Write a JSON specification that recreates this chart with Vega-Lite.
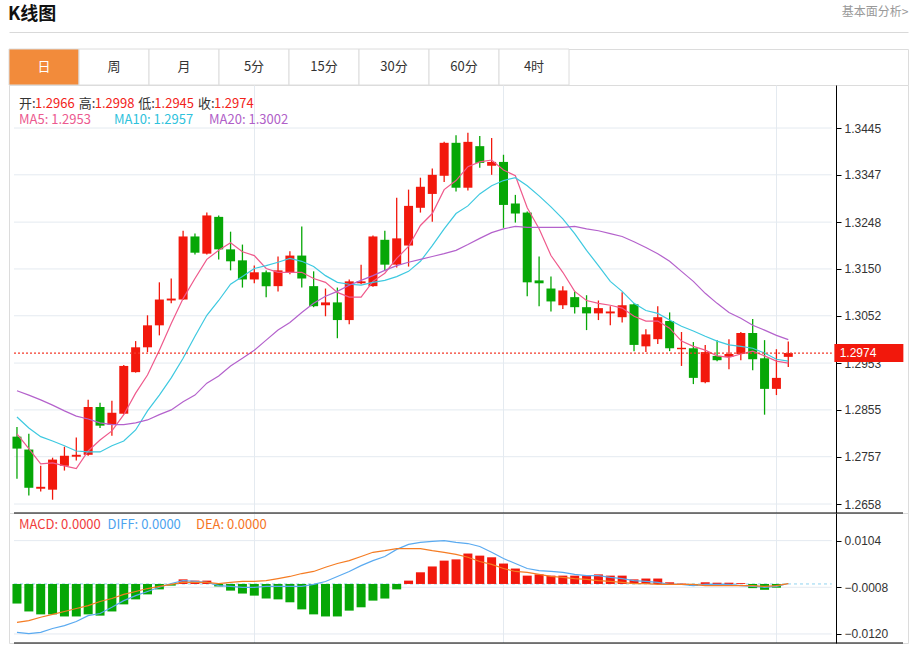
{
  "$schema": "https://vega.github.io/schema/vega-lite/v6.json",
  "background": "white",
  "padding": {"left": 8, "right": 5, "top": 4, "bottom": 0},
  "title": {"text": "K线图", "anchor": "start", "font": "Noto Sans CJK SC", "fontSize": 18, "fontWeight": "bold", "color": "#111111", "offset": -19},
  "spacing": 0,
  "bounds": "flush",
  "resolve": {"scale": {"x": "independent", "y": "independent", "color": "independent"}},
  "datasets": {
    "tabs": [{"tab": "日"}, {"tab": "周"}, {"tab": "月"}, {"tab": "5分"}, {"tab": "15分"}, {"tab": "30分"}, {"tab": "60分"}, {"tab": "4时"}],
    "pticks": [{"p": 1.3445}, {"p": 1.3347}, {"p": 1.3248}, {"p": 1.315}, {"p": 1.3052}, {"p": 1.2953}, {"p": 1.2855}, {"p": 1.2757}, {"p": 1.2658}],
    "mticks": [{"m": 0.0104}, {"m": -0.0008}, {"m": -0.012}],
    "last": [{"price": 1.2974}],
    "info1": [{"k": "开:", "v": 1.2966}, {"k": "高:", "v": 1.2998}, {"k": "低:", "v": 1.2945}, {"k": "收:", "v": 1.2974}],
    "info2": [{"name": "MA5", "t": "MA5: 1.2953"}, {"name": "MA10", "t": "MA10: 1.2957"}, {"name": "MA20", "t": "MA20: 1.3002"}],
    "info3": [{"name": "MACD", "t": "MACD: 0.0000"}, {"name": "DIFF", "t": "DIFF: 0.0000"}, {"name": "DEA", "t": "DEA: 0.0000"}],
    "k": [
      {"i":0,"o":1.2799,"h":1.2819,"l":1.2711,"c":1.2774,"ma5":1.2805,"ma10":1.2840,"ma20":1.2895,"macd":-0.0047,"diff":-0.0116,"dea":-0.0092},
      {"i":1,"o":1.2772,"h":1.2805,"l":1.2676,"c":1.2692,"ma5":1.2774,"ma10":1.2817,"ma20":1.2886,"macd":-0.0066,"diff":-0.0119,"dea":-0.0088},
      {"i":2,"o":1.2690,"h":1.2738,"l":1.2684,"c":1.2694,"ma5":1.2742,"ma10":1.2799,"ma20":1.2876,"macd":-0.0073,"diff":-0.0116,"dea":-0.0080},
      {"i":3,"o":1.2688,"h":1.2755,"l":1.2667,"c":1.2751,"ma5":1.2744,"ma10":1.2790,"ma20":1.2865,"macd":-0.0073,"diff":-0.0107,"dea":-0.0073},
      {"i":4,"o":1.2738,"h":1.2778,"l":1.2728,"c":1.2759,"ma5":1.2738,"ma10":1.2780,"ma20":1.2853,"macd":-0.0078,"diff":-0.0100,"dea":-0.0066},
      {"i":5,"o":1.2757,"h":1.2797,"l":1.2749,"c":1.2761,"ma5":1.2732,"ma10":1.2769,"ma20":1.2842,"macd":-0.0078,"diff":-0.0090,"dea":-0.0059},
      {"i":6,"o":1.2761,"h":1.2876,"l":1.2759,"c":1.2861,"ma5":1.2769,"ma10":1.2767,"ma20":1.2836,"macd":-0.0073,"diff":-0.0076,"dea":-0.0052},
      {"i":7,"o":1.2861,"h":1.2870,"l":1.2817,"c":1.2822,"ma5":1.2792,"ma10":1.2767,"ma20":1.2828,"macd":-0.0076,"diff":-0.0071,"dea":-0.0042},
      {"i":8,"o":1.2824,"h":1.2874,"l":1.2801,"c":1.2849,"ma5":1.2811,"ma10":1.2780,"ma20":1.2824,"macd":-0.0066,"diff":-0.0056,"dea":-0.0035},
      {"i":9,"o":1.2847,"h":1.2949,"l":1.2846,"c":1.2947,"ma5":1.2845,"ma10":1.2790,"ma20":1.2824,"macd":-0.0049,"diff":-0.0040,"dea":-0.0025},
      {"i":10,"o":1.2934,"h":1.2999,"l":1.2933,"c":1.2986,"ma5":1.2890,"ma10":1.2813,"ma20":1.2828,"macd":-0.0037,"diff":-0.0028,"dea":-0.0018},
      {"i":11,"o":1.2986,"h":1.3053,"l":1.2976,"c":1.3032,"ma5":1.2928,"ma10":1.2853,"ma20":1.2834,"macd":-0.0025,"diff":-0.0018,"dea":-0.0011},
      {"i":12,"o":1.3032,"h":1.3122,"l":1.3011,"c":1.3086,"ma5":1.2980,"ma10":1.2886,"ma20":1.2845,"macd":-0.0013,"diff":-0.0008,"dea":-0.0006},
      {"i":13,"o":1.3084,"h":1.3130,"l":1.3078,"c":1.3088,"ma5":1.3036,"ma10":1.2922,"ma20":1.2855,"macd":-0.0004,"diff":0.0001,"dea":-0.0001},
      {"i":14,"o":1.3086,"h":1.3230,"l":1.3085,"c":1.3218,"ma5":1.3088,"ma10":1.2963,"ma20":1.2872,"macd":0.0011,"diff":0.0008,"dea":0.0004},
      {"i":15,"o":1.3218,"h":1.3224,"l":1.3180,"c":1.3184,"ma5":1.3130,"ma10":1.3009,"ma20":1.2886,"macd":0.0008,"diff":0.0006,"dea":0.0004},
      {"i":16,"o":1.3182,"h":1.3268,"l":1.3180,"c":1.3262,"ma5":1.3170,"ma10":1.3053,"ma20":1.2911,"macd":0.0008,"diff":0.0004,"dea":0.0004},
      {"i":17,"o":1.3259,"h":1.3262,"l":1.3170,"c":1.3191,"ma5":1.3189,"ma10":1.3084,"ma20":1.2926,"macd":-0.0006,"diff":-0.0004,"dea":0.0001},
      {"i":18,"o":1.3191,"h":1.3228,"l":1.3147,"c":1.3166,"ma5":1.3205,"ma10":1.3118,"ma20":1.2947,"macd":-0.0016,"diff":-0.0006,"dea":0.0004},
      {"i":19,"o":1.3168,"h":1.3201,"l":1.3111,"c":1.3128,"ma5":1.3186,"ma10":1.3134,"ma20":1.2963,"macd":-0.0023,"diff":-0.0008,"dea":0.0006},
      {"i":20,"o":1.3128,"h":1.3157,"l":1.3120,"c":1.3143,"ma5":1.3178,"ma10":1.3151,"ma20":1.2980,"macd":-0.0028,"diff":-0.0008,"dea":0.0006},
      {"i":21,"o":1.3143,"h":1.3147,"l":1.3091,"c":1.3114,"ma5":1.3151,"ma10":1.3157,"ma20":1.3001,"macd":-0.0035,"diff":-0.0006,"dea":0.0008},
      {"i":22,"o":1.3114,"h":1.3176,"l":1.3103,"c":1.3147,"ma5":1.3143,"ma10":1.3164,"ma20":1.3022,"macd":-0.0037,"diff":-0.0006,"dea":0.0013},
      {"i":23,"o":1.3143,"h":1.3187,"l":1.3139,"c":1.3178,"ma5":1.3143,"ma10":1.3172,"ma20":1.3038,"macd":-0.0044,"diff":-0.0006,"dea":0.0018},
      {"i":24,"o":1.3178,"h":1.3239,"l":1.3111,"c":1.3130,"ma5":1.3143,"ma10":1.3166,"ma20":1.3059,"macd":-0.0061,"diff":-0.0006,"dea":0.0025},
      {"i":25,"o":1.3114,"h":1.3145,"l":1.3070,"c":1.3072,"ma5":1.3130,"ma10":1.3155,"ma20":1.3078,"macd":-0.0073,"diff":-0.0001,"dea":0.0030},
      {"i":26,"o":1.3074,"h":1.3109,"l":1.3051,"c":1.3080,"ma5":1.3122,"ma10":1.3136,"ma20":1.3093,"macd":-0.0078,"diff":0.0006,"dea":0.0040},
      {"i":27,"o":1.3080,"h":1.3111,"l":1.3005,"c":1.3043,"ma5":1.3101,"ma10":1.3122,"ma20":1.3103,"macd":-0.0078,"diff":0.0018,"dea":0.0049},
      {"i":28,"o":1.3043,"h":1.3128,"l":1.3034,"c":1.3124,"ma5":1.3091,"ma10":1.3118,"ma20":1.3116,"macd":-0.0064,"diff":0.0030,"dea":0.0056},
      {"i":29,"o":1.3120,"h":1.3159,"l":1.3118,"c":1.3124,"ma5":1.3091,"ma10":1.3116,"ma20":1.3126,"macd":-0.0056,"diff":0.0044,"dea":0.0066},
      {"i":30,"o":1.3114,"h":1.3220,"l":1.3113,"c":1.3218,"ma5":1.3124,"ma10":1.3122,"ma20":1.3136,"macd":-0.0040,"diff":0.0056,"dea":0.0076},
      {"i":31,"o":1.3211,"h":1.3230,"l":1.3147,"c":1.3159,"ma5":1.3141,"ma10":1.3126,"ma20":1.3147,"macd":-0.0035,"diff":0.0066,"dea":0.0080},
      {"i":32,"o":1.3159,"h":1.3299,"l":1.3153,"c":1.3214,"ma5":1.3172,"ma10":1.3134,"ma20":1.3157,"macd":-0.0013,"diff":0.0083,"dea":0.0085},
      {"i":33,"o":1.3199,"h":1.3316,"l":1.3155,"c":1.3282,"ma5":1.3197,"ma10":1.3145,"ma20":1.3164,"macd":0.0008,"diff":0.0095,"dea":0.0085},
      {"i":34,"o":1.3278,"h":1.3341,"l":1.3268,"c":1.3322,"ma5":1.3241,"ma10":1.3166,"ma20":1.3170,"macd":0.0028,"diff":0.0100,"dea":0.0085},
      {"i":35,"o":1.3307,"h":1.3360,"l":1.3249,"c":1.3347,"ma5":1.3266,"ma10":1.3199,"ma20":1.3176,"macd":0.0042,"diff":0.0102,"dea":0.0080},
      {"i":36,"o":1.3345,"h":1.3416,"l":1.3332,"c":1.3414,"ma5":1.3316,"ma10":1.3234,"ma20":1.3182,"macd":0.0056,"diff":0.0104,"dea":0.0076},
      {"i":37,"o":1.3414,"h":1.3430,"l":1.3312,"c":1.3320,"ma5":1.3335,"ma10":1.3266,"ma20":1.3189,"macd":0.0059,"diff":0.0100,"dea":0.0071},
      {"i":38,"o":1.3320,"h":1.3435,"l":1.3314,"c":1.3416,"ma5":1.3364,"ma10":1.3282,"ma20":1.3201,"macd":0.0073,"diff":0.0097,"dea":0.0064},
      {"i":39,"o":1.3407,"h":1.3428,"l":1.3362,"c":1.3372,"ma5":1.3374,"ma10":1.3307,"ma20":1.3214,"macd":0.0068,"diff":0.0090,"dea":0.0054},
      {"i":40,"o":1.3366,"h":1.3424,"l":1.3347,"c":1.3374,"ma5":1.3378,"ma10":1.3324,"ma20":1.3226,"macd":0.0064,"diff":0.0076,"dea":0.0047},
      {"i":41,"o":1.3374,"h":1.3389,"l":1.3236,"c":1.3284,"ma5":1.3357,"ma10":1.3335,"ma20":1.3234,"macd":0.0049,"diff":0.0061,"dea":0.0037},
      {"i":42,"o":1.3287,"h":1.3305,"l":1.3247,"c":1.3266,"ma5":1.3345,"ma10":1.3341,"ma20":1.3239,"macd":0.0037,"diff":0.0049,"dea":0.0030},
      {"i":43,"o":1.3268,"h":1.3270,"l":1.3093,"c":1.3122,"ma5":1.3278,"ma10":1.3324,"ma20":1.3237,"macd":0.0020,"diff":0.0037,"dea":0.0028},
      {"i":44,"o":1.3126,"h":1.3176,"l":1.3072,"c":1.3120,"ma5":1.3234,"ma10":1.3303,"ma20":1.3237,"macd":0.0023,"diff":0.0032,"dea":0.0023},
      {"i":45,"o":1.3109,"h":1.3134,"l":1.3061,"c":1.3082,"ma5":1.3178,"ma10":1.3280,"ma20":1.3237,"macd":0.0020,"diff":0.0030,"dea":0.0018},
      {"i":46,"o":1.3074,"h":1.3114,"l":1.3066,"c":1.3105,"ma5":1.3143,"ma10":1.3255,"ma20":1.3237,"macd":0.0020,"diff":0.0028,"dea":0.0016},
      {"i":47,"o":1.3091,"h":1.3103,"l":1.3057,"c":1.3070,"ma5":1.3103,"ma10":1.3224,"ma20":1.3239,"macd":0.0020,"diff":0.0023,"dea":0.0013},
      {"i":48,"o":1.3070,"h":1.3095,"l":1.3022,"c":1.3057,"ma5":1.3084,"ma10":1.3189,"ma20":1.3234,"macd":0.0020,"diff":0.0020,"dea":0.0011},
      {"i":49,"o":1.3057,"h":1.3084,"l":1.3043,"c":1.3068,"ma5":1.3078,"ma10":1.3157,"ma20":1.3230,"macd":0.0023,"diff":0.0020,"dea":0.0008},
      {"i":50,"o":1.3057,"h":1.3072,"l":1.3032,"c":1.3061,"ma5":1.3074,"ma10":1.3124,"ma20":1.3224,"macd":0.0020,"diff":0.0016,"dea":0.0006},
      {"i":51,"o":1.3049,"h":1.3101,"l":1.3038,"c":1.3074,"ma5":1.3068,"ma10":1.3103,"ma20":1.3218,"macd":0.0020,"diff":0.0013,"dea":0.0004},
      {"i":52,"o":1.3076,"h":1.3078,"l":1.2978,"c":1.2991,"ma5":1.3051,"ma10":1.3078,"ma20":1.3207,"macd":0.0011,"diff":0.0008,"dea":0.0001},
      {"i":53,"o":1.2988,"h":1.3024,"l":1.2976,"c":1.3013,"ma5":1.3041,"ma10":1.3063,"ma20":1.3195,"macd":0.0013,"diff":0.0006,"dea":0.0001},
      {"i":54,"o":1.3003,"h":1.3072,"l":1.2993,"c":1.3049,"ma5":1.3041,"ma10":1.3057,"ma20":1.3182,"macd":0.0013,"diff":0.0004,"dea":-0.0001},
      {"i":55,"o":1.3041,"h":1.3059,"l":1.2978,"c":1.2984,"ma5":1.3026,"ma10":1.3043,"ma20":1.3166,"macd":0.0004,"diff":-0.0001,"dea":-0.0001},
      {"i":56,"o":1.2982,"h":1.3018,"l":1.2947,"c":1.2985,"ma5":1.2999,"ma10":1.3030,"ma20":1.3145,"macd":0.0001,"diff":-0.0001,"dea":-0.0001},
      {"i":57,"o":1.2984,"h":1.2997,"l":1.2909,"c":1.2922,"ma5":1.2988,"ma10":1.3020,"ma20":1.3124,"macd":-0.0004,"diff":-0.0004,"dea":-0.0001},
      {"i":58,"o":1.2913,"h":1.2991,"l":1.2911,"c":1.2976,"ma5":1.2980,"ma10":1.3009,"ma20":1.3099,"macd":0.0004,"diff":-0.0001,"dea":-0.0004},
      {"i":59,"o":1.2968,"h":1.3001,"l":1.2957,"c":1.2959,"ma5":1.2968,"ma10":1.2999,"ma20":1.3078,"macd":0.0003,"diff":-0.0001,"dea":-0.0004},
      {"i":60,"o":1.2966,"h":1.3003,"l":1.2940,"c":1.2972,"ma5":1.2965,"ma10":1.2991,"ma20":1.3059,"macd":0.0003,"diff":-0.0001,"dea":-0.0004},
      {"i":61,"o":1.2972,"h":1.3018,"l":1.2959,"c":1.3016,"ma5":1.2972,"ma10":1.2988,"ma20":1.3047,"macd":0.0002,"diff":-0.0004,"dea":-0.0004},
      {"i":62,"o":1.3016,"h":1.3045,"l":1.2938,"c":1.2961,"ma5":1.2978,"ma10":1.2984,"ma20":1.3032,"macd":-0.0010,"diff":-0.0006,"dea":-0.0004},
      {"i":63,"o":1.2963,"h":1.3001,"l":1.2845,"c":1.2899,"ma5":1.2968,"ma10":1.2974,"ma20":1.3022,"macd":-0.0014,"diff":-0.0008,"dea":-0.0006},
      {"i":64,"o":1.2899,"h":1.2982,"l":1.2886,"c":1.2922,"ma5":1.2957,"ma10":1.2961,"ma20":1.3011,"macd":-0.0009,"diff":-0.0006,"dea":-0.0004},
      {"i":65,"o":1.2966,"h":1.2998,"l":1.2945,"c":1.2974,"ma5":1.2953,"ma10":1.2957,"ma20":1.3002,"macd":0.0000,"diff":0.0001,"dea":0.0001}
    ]
  },
  "vconcat": [
    {
      "width": 899,
      "height": 36,
      "data": {"name": "tabs"},
      "encoding": {
        "x": {"field": "tab", "type": "nominal",
          "scale": {"domain": ["日", "周", "月", "5分", "15分", "30分", "60分", "4时", "f1", "f2", "f3", "f4"], "paddingInner": 0, "paddingOuter": 0.4214, "align": 0},
          "axis": {"orient": "top", "offset": 17, "domainColor": "#d9d9d9", "domainWidth": 1, "ticks": false, "labels": false,
            "title": "基本面分析>", "titleAnchor": "end", "titleAlign": "right", "titleBaseline": "middle", "titleY": -21,
            "titleFontSize": 12, "titleFontWeight": "normal", "titleColor": "#999999", "titleFont": "Noto Sans CJK SC"}}
      },
      "layer": [
        {"mark": {"type": "rect", "stroke": "#dcdcdc", "strokeWidth": 1},
         "encoding": {"fill": {"condition": {"test": "datum.tab === '日'", "value": "#f28b3b"}, "value": "#ffffff"}}},
        {"mark": {"type": "text", "fontSize": 13, "font": "Noto Sans CJK SC"},
         "encoding": {"text": {"field": "tab"}, "color": {"condition": {"test": "datum.tab === '日'", "value": "#ffffff"}, "value": "#333333"}}}
      ]
    },
    {
      "width": 899,
      "height": 428,
      "resolve": {"scale": {"x": "independent"}},
      "layer": [
        {
          "layer": [
            {"data": {"name": "pticks"}, "mark": {"type": "rule", "color": "#e4eaf0", "strokeWidth": 1},
             "encoding": {"x": {"datum": -0.25, "type": "quantitative"}, "x2": {"datum": 68.667}, "y": {"field": "p", "type": "quantitative"}}},
            {"data": {"name": "k"}, "mark": {"type": "rule", "strokeWidth": 1.3},
             "encoding": {
               "x": {"field": "i", "type": "quantitative", "scale": {"domain": [-0.25, 74.6667], "nice": false, "zero": false},
                 "axis": {"values": [20, 41, 64], "grid": true, "gridColor": "#e4eaf0", "labels": false, "ticks": false, "domain": false, "title": null, "minExtent": 0, "maxExtent": 0}},
               "y": {"field": "l", "type": "quantitative", "scale": {"domain": [1.26392, 1.3535], "nice": false, "zero": false},
                 "axis": {"orient": "right", "offset": -72, "values": [1.3445, 1.3347, 1.3248, 1.315, 1.3052, 1.2953, 1.2855, 1.2757, 1.2658],
                   "format": ".4f", "grid": false, "domainColor": "#000000", "tickColor": "#000000", "tickSize": 5, "labelPadding": 3,
                   "labelFontSize": 12, "labelColor": "#333333", "labelFont": "Liberation Sans", "title": null}},
               "y2": {"field": "h"},
               "color": {"condition": {"test": "datum.c >= datum.o", "value": "#f2180c"}, "value": "#06a706"}}},
            {"data": {"name": "k"}, "mark": {"type": "bar", "width": 9},
             "encoding": {
               "x": {"field": "i", "type": "quantitative"},
               "y": {"field": "o", "type": "quantitative"},
               "y2": {"field": "c"},
               "color": {"condition": {"test": "datum.c >= datum.o", "value": "#f2180c"}, "value": "#06a706"}}},
            {"data": {"name": "k"}, "mark": {"type": "line", "color": "#ef5a8c", "strokeWidth": 1.2},
             "encoding": {"x": {"field": "i", "type": "quantitative"}, "y": {"field": "ma5", "type": "quantitative"}}},
            {"data": {"name": "k"}, "mark": {"type": "line", "color": "#3ec9e0", "strokeWidth": 1.2},
             "encoding": {"x": {"field": "i", "type": "quantitative"}, "y": {"field": "ma10", "type": "quantitative"}}},
            {"data": {"name": "k"}, "mark": {"type": "line", "color": "#b462cc", "strokeWidth": 1.2},
             "encoding": {"x": {"field": "i", "type": "quantitative"}, "y": {"field": "ma20", "type": "quantitative"}}},
            {"data": {"name": "last"}, "mark": {"type": "rule", "color": "#f33a2a", "strokeDash": [2, 2], "strokeWidth": 1.2},
             "encoding": {"x": {"datum": -0.25, "type": "quantitative"}, "x2": {"datum": 68.667}, "y": {"field": "price", "type": "quantitative"}}},
            {"data": {"name": "last"}, "mark": {"type": "tick", "orient": "horizontal", "size": 69, "thickness": 18, "color": "#f2180c", "opacity": 1},
             "encoding": {"x": {"datum": 71.79, "type": "quantitative"}, "y": {"field": "price", "type": "quantitative"}}},
            {"data": {"name": "last"}, "mark": {"type": "text", "align": "left", "baseline": "middle", "color": "#ffffff", "fontSize": 12, "font": "Liberation Sans"},
             "encoding": {"x": {"datum": 69.33, "type": "quantitative"}, "y": {"field": "price", "type": "quantitative"}, "text": {"field": "price", "format": ".4f"}}}
          ]
        },
        {
          "data": {"name": "info1"},
          "encoding": {
            "x": {"field": "k", "type": "nominal", "sort": null, "scale": {"type": "point", "range": [10, 189], "padding": 0}, "axis": null},
            "y": {"datum": 1.34952, "type": "quantitative"}
          },
          "layer": [
            {"mark": {"type": "text", "align": "left", "baseline": "middle", "fontSize": 13, "color": "#333333", "font": "Noto Sans CJK SC"},
             "encoding": {"text": {"field": "k"}}},
            {"mark": {"type": "text", "align": "left", "baseline": "middle", "fontSize": 13, "color": "#f2231a", "dx": 16, "font": "Noto Sans CJK SC"},
             "encoding": {"text": {"field": "v", "format": ".4f"}}}
          ]
        },
        {
          "data": {"name": "info2"},
          "mark": {"type": "text", "align": "left", "baseline": "middle", "fontSize": 13, "font": "Noto Sans CJK SC"},
          "encoding": {
            "x": {"field": "name", "type": "nominal", "sort": null, "scale": {"type": "point", "range": [10, 200], "padding": 0}, "axis": null},
            "y": {"datum": 1.34617, "type": "quantitative"},
            "text": {"field": "t"},
            "color": {"field": "name", "type": "nominal", "scale": {"domain": ["MA5", "MA10", "MA20"], "range": ["#ec5a8f", "#2fc2dc", "#b060c8"]}, "legend": null}
          }
        }
      ]
    },
    {
      "width": 899,
      "height": 130,
      "resolve": {"scale": {"x": "independent"}},
      "layer": [
        {
          "layer": [
            {"data": {"name": "mticks"}, "mark": {"type": "rule", "color": "#e4eaf0", "strokeWidth": 1},
             "encoding": {"x": {"datum": -0.25, "type": "quantitative"}, "x2": {"datum": 68.667}, "y": {"field": "m", "type": "quantitative"}}},
            {"data": {"name": "last"}, "mark": {"type": "rule", "color": "#8fd3f0", "strokeDash": [3, 3], "strokeWidth": 1},
             "encoding": {"x": {"datum": -0.25, "type": "quantitative"}, "x2": {"datum": 68.667}, "y": {"datum": 0, "type": "quantitative"}}},
            {"data": {"name": "k"}, "mark": {"type": "bar", "width": 9},
             "encoding": {
               "x": {"field": "i", "type": "quantitative", "scale": {"domain": [-0.25, 74.6667], "nice": false, "zero": false},
                 "axis": {"values": [20, 41, 64], "grid": true, "gridColor": "#e4eaf0", "labels": false, "ticks": false, "domain": false, "title": null, "minExtent": 0, "maxExtent": 0}},
               "y": {"field": "macd", "type": "quantitative", "scale": {"domain": [-0.01417, 0.01703], "nice": false, "zero": false},
                 "axis": {"orient": "right", "offset": -72, "values": [0.0104, -0.0008, -0.012], "format": ".4f", "grid": false,
                   "domainColor": "#000000", "tickColor": "#000000", "tickSize": 5, "labelPadding": 3,
                   "labelFontSize": 12, "labelColor": "#333333", "labelFont": "Liberation Sans", "title": null}},
               "y2": {"datum": 0},
               "color": {"condition": {"test": "datum.macd >= 0", "value": "#f2180c"}, "value": "#06a706"}}},
            {"data": {"name": "k"}, "mark": {"type": "line", "color": "#5aaaf0", "strokeWidth": 1.2},
             "encoding": {"x": {"field": "i", "type": "quantitative"}, "y": {"field": "diff", "type": "quantitative"}}},
            {"data": {"name": "k"}, "mark": {"type": "line", "color": "#f57c23", "strokeWidth": 1.2},
             "encoding": {"x": {"field": "i", "type": "quantitative"}, "y": {"field": "dea", "type": "quantitative"}}},
            {"data": {"name": "last"}, "mark": {"type": "rule", "color": "#000000", "strokeWidth": 1.2},
             "encoding": {"x": {"datum": -0.25, "type": "quantitative"}, "x2": {"datum": 74.6667}, "y": {"datum": 0.01703, "type": "quantitative"}}},
            {"data": {"name": "last"}, "mark": {"type": "rule", "color": "#000000", "strokeWidth": 1.2},
             "encoding": {"x": {"datum": -0.25, "type": "quantitative"}, "x2": {"datum": 74.6667}, "y": {"datum": -0.01417, "type": "quantitative"}}}
          ]
        },
        {
          "data": {"name": "info3"},
          "mark": {"type": "text", "align": "left", "baseline": "middle", "fontSize": 13, "font": "Noto Sans CJK SC"},
          "encoding": {
            "x": {"field": "name", "type": "nominal", "sort": null, "scale": {"type": "point", "range": [10, 187], "padding": 0}, "axis": null},
            "y": {"datum": 0.01427, "type": "quantitative"},
            "text": {"field": "t"},
            "color": {"field": "name", "type": "nominal", "scale": {"domain": ["MACD", "DIFF", "DEA"], "range": ["#f03c3c", "#4da3ef", "#f5751f"]}, "legend": null}
          }
        }
      ]
    }
  ],
  "config": {
    "view": {"stroke": "#dcdcdc"},
    "concat": {"spacing": 0},
    "text": {"font": "Noto Sans CJK SC"},
    "axis": {"labelFont": "Liberation Sans", "titleFont": "Noto Sans CJK SC"}
  }
}
